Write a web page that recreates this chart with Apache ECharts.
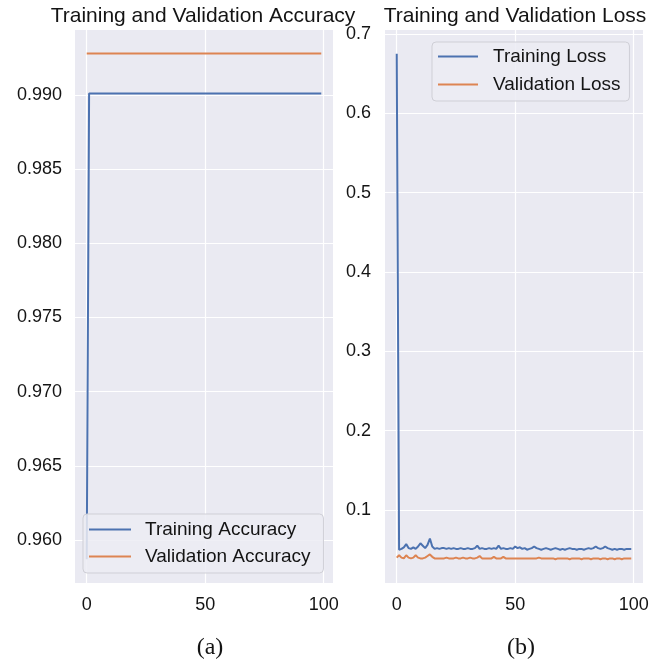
<!DOCTYPE html>
<html>
<head>
<meta charset="utf-8">
<script src="https://cdn.jsdelivr.net/npm/echarts@6/dist/echarts.min.js"></script>
<style>
html,body{margin:0;padding:0;background:#fff;}
#c{width:652px;height:660px;}
</style>
</head>
<body>
<div id="c"></div>
<script>
// ---- data ----
var trainAcc = [
  0.9587,0.9901,0.9901,0.9901,0.9901,0.9901,0.9901,0.9901,0.9901,0.9901,
  0.9901,0.9901,0.9901,0.9901,0.9901,0.9901,0.9901,0.9901,0.9901,0.9901,
  0.9901,0.9901,0.9901,0.9901,0.9901,0.9901,0.9901,0.9901,0.9901,0.9901,
  0.9901,0.9901,0.9901,0.9901,0.9901,0.9901,0.9901,0.9901,0.9901,0.9901,
  0.9901,0.9901,0.9901,0.9901,0.9901,0.9901,0.9901,0.9901,0.9901,0.9901,
  0.9901,0.9901,0.9901,0.9901,0.9901,0.9901,0.9901,0.9901,0.9901,0.9901,
  0.9901,0.9901,0.9901,0.9901,0.9901,0.9901,0.9901,0.9901,0.9901,0.9901,
  0.9901,0.9901,0.9901,0.9901,0.9901,0.9901,0.9901,0.9901,0.9901,0.9901,
  0.9901,0.9901,0.9901,0.9901,0.9901,0.9901,0.9901,0.9901,0.9901,0.9901,
  0.9901,0.9901,0.9901,0.9901,0.9901,0.9901,0.9901,0.9901,0.9901,0.9901
];
var valAcc = [
  0.9928,0.9928,0.9928,0.9928,0.9928,0.9928,0.9928,0.9928,0.9928,0.9928,
  0.9928,0.9928,0.9928,0.9928,0.9928,0.9928,0.9928,0.9928,0.9928,0.9928,
  0.9928,0.9928,0.9928,0.9928,0.9928,0.9928,0.9928,0.9928,0.9928,0.9928,
  0.9928,0.9928,0.9928,0.9928,0.9928,0.9928,0.9928,0.9928,0.9928,0.9928,
  0.9928,0.9928,0.9928,0.9928,0.9928,0.9928,0.9928,0.9928,0.9928,0.9928,
  0.9928,0.9928,0.9928,0.9928,0.9928,0.9928,0.9928,0.9928,0.9928,0.9928,
  0.9928,0.9928,0.9928,0.9928,0.9928,0.9928,0.9928,0.9928,0.9928,0.9928,
  0.9928,0.9928,0.9928,0.9928,0.9928,0.9928,0.9928,0.9928,0.9928,0.9928,
  0.9928,0.9928,0.9928,0.9928,0.9928,0.9928,0.9928,0.9928,0.9928,0.9928,
  0.9928,0.9928,0.9928,0.9928,0.9928,0.9928,0.9928,0.9928,0.9928,0.9928
];
var trainLoss = [
  0.675,0.050,0.051,0.053,0.057,0.052,0.051,0.053,0.051,0.054,
  0.058,0.055,0.052,0.056,0.064,0.054,0.051,0.052,0.051,0.052,
  0.052,0.051,0.052,0.051,0.052,0.051,0.051,0.052,0.051,0.051,
  0.052,0.051,0.051,0.052,0.055,0.051,0.052,0.051,0.051,0.052,
  0.051,0.052,0.051,0.055,0.051,0.052,0.051,0.051,0.052,0.051,
  0.054,0.052,0.053,0.051,0.052,0.050,0.051,0.052,0.054,0.052,
  0.051,0.050,0.051,0.052,0.051,0.050,0.051,0.052,0.051,0.050,
  0.051,0.050,0.051,0.052,0.051,0.051,0.050,0.051,0.051,0.050,
  0.051,0.052,0.051,0.052,0.054,0.052,0.051,0.052,0.054,0.052,
  0.051,0.050,0.051,0.050,0.051,0.051,0.050,0.051,0.051,0.051
];
var valLoss = [
  0.040,0.043,0.040,0.039,0.043,0.040,0.039,0.040,0.043,0.040,
  0.039,0.039,0.040,0.042,0.044,0.041,0.039,0.039,0.039,0.039,
  0.039,0.040,0.039,0.039,0.039,0.040,0.039,0.039,0.040,0.039,
  0.039,0.040,0.039,0.039,0.040,0.042,0.039,0.039,0.039,0.039,
  0.039,0.041,0.039,0.039,0.039,0.041,0.039,0.039,0.039,0.039,
  0.039,0.039,0.039,0.039,0.039,0.039,0.039,0.039,0.039,0.039,
  0.040,0.039,0.039,0.039,0.039,0.039,0.039,0.038,0.039,0.039,
  0.039,0.039,0.039,0.038,0.039,0.039,0.039,0.039,0.038,0.039,
  0.039,0.039,0.038,0.039,0.039,0.039,0.038,0.039,0.039,0.038,
  0.039,0.039,0.038,0.039,0.039,0.038,0.039,0.039,0.039,0.039
];
var xTicks = [0, 50, 100];
var accTicks = [0.960, 0.965, 0.970, 0.975, 0.980, 0.985, 0.990];
var lossTicks = [0.1, 0.2, 0.3, 0.4, 0.5, 0.6, 0.7];
var titles = ['Training and Validation Accuracy', 'Training and Validation Loss'];
var captions = ['(a)', '(b)'];
var names = ['Training Accuracy', 'Validation Accuracy', 'Training Loss', 'Validation Loss'];

function pairs(arr){ return arr.map(function(v,i){ return [i, v]; }); }

var SANS = 'Liberation Sans, Arial, Helvetica, sans-serif';
var SERIF = 'Liberation Serif, Times New Roman, serif';
var BLUE = '#4c72b0', ORANGE = '#dd8452';
var TXT = '#141414';
var TICK_FS = 18;

function xAxisFor(gi){
  return {
    type:'value', gridIndex:gi, min:-4.95, max:103.95,
    axisLine:{show:false},
    axisTick:{show:false, customValues:xTicks},
    axisLabel:{customValues:xTicks, color:TXT, fontSize:TICK_FS, fontFamily:SANS, margin:13},
    splitLine:{show:true, lineStyle:{color:'#ffffff', width:1.2}}
  };
}

var chart = echarts.init(document.getElementById('c'), null, {renderer:'canvas'});
chart.setOption({
  animation:false,
  backgroundColor:'#ffffff',
  title:[
    {text:titles[0], left:198, top:1, textAlign:'center', textStyle:{fontFamily:SANS, fontSize:21, fontWeight:'normal', color:TXT}},
    {text:titles[1], left:510, top:1, textAlign:'center', textStyle:{fontFamily:SANS, fontSize:21, fontWeight:'normal', color:TXT}},
    {text:captions[0], left:205, top:631, textAlign:'center', textStyle:{fontFamily:SERIF, fontSize:24, fontWeight:'normal', color:TXT}},
    {text:captions[1], left:516, top:631, textAlign:'center', textStyle:{fontFamily:SERIF, fontSize:24, fontWeight:'normal', color:TXT}}
  ],
  grid:[
    {left:75, width:258, top:30, height:553, show:true, backgroundColor:'#eaeaf2', borderWidth:0},
    {left:385, width:258, top:30, height:553, show:true, backgroundColor:'#eaeaf2', borderWidth:0}
  ],
  xAxis:[xAxisFor(0), xAxisFor(1)],
  yAxis:[
    {type:'value', gridIndex:0, min:0.9571, max:0.99438,
     axisLine:{show:false}, axisTick:{show:false, customValues:accTicks},
     axisLabel:{customValues:accTicks, color:TXT, fontSize:TICK_FS, fontFamily:SANS, margin:13,
       formatter:function(v){return v.toFixed(3);}},
     splitLine:{show:true, lineStyle:{color:'#ffffff', width:1.2}}},
    {type:'value', gridIndex:1, min:0.008, max:0.705,
     axisLine:{show:false}, axisTick:{show:false, customValues:lossTicks},
     axisLabel:{customValues:lossTicks, color:TXT, fontSize:TICK_FS, fontFamily:SANS, margin:14,
       formatter:function(v){return v.toFixed(1);}},
     splitLine:{show:true, lineStyle:{color:'#ffffff', width:1.2}}}
  ],
  legend:[
    {data:[names[0], names[1]], orient:'vertical', left:83, top:514,
     icon:'rect', itemWidth:42, itemHeight:2, itemGap:8,
     padding:[6, 13, 7, 6],
     backgroundColor:'rgba(236,236,243,0.85)', borderColor:'#cfcfd6', borderWidth:1, borderRadius:4,
     textStyle:{fontFamily:SANS, fontSize:19, lineHeight:19, color:TXT, padding:[0,0,0,9]}},
    {data:[names[2], names[3]], orient:'vertical', left:432, top:42,
     icon:'rect', itemWidth:40, itemHeight:2, itemGap:9,
     padding:[5, 9, 7, 6],
     backgroundColor:'rgba(236,236,243,0.85)', borderColor:'#cfcfd6', borderWidth:1, borderRadius:4,
     textStyle:{fontFamily:SANS, fontSize:19, lineHeight:19, color:TXT, padding:[0,0,0,10]}}
  ],
  series:[
    {name:names[0], type:'line', xAxisIndex:0, yAxisIndex:0, data:pairs(trainAcc), symbol:'none',
     lineStyle:{color:BLUE, width:2}, itemStyle:{color:BLUE}},
    {name:names[1], type:'line', xAxisIndex:0, yAxisIndex:0, data:pairs(valAcc), symbol:'none',
     lineStyle:{color:ORANGE, width:2}, itemStyle:{color:ORANGE}},
    {name:names[2], type:'line', xAxisIndex:1, yAxisIndex:1, data:pairs(trainLoss), symbol:'none',
     lineStyle:{color:BLUE, width:2}, itemStyle:{color:BLUE}},
    {name:names[3], type:'line', xAxisIndex:1, yAxisIndex:1, data:pairs(valLoss), symbol:'none',
     lineStyle:{color:ORANGE, width:2}, itemStyle:{color:ORANGE}}
  ]
});
</script>
</body>
</html>
